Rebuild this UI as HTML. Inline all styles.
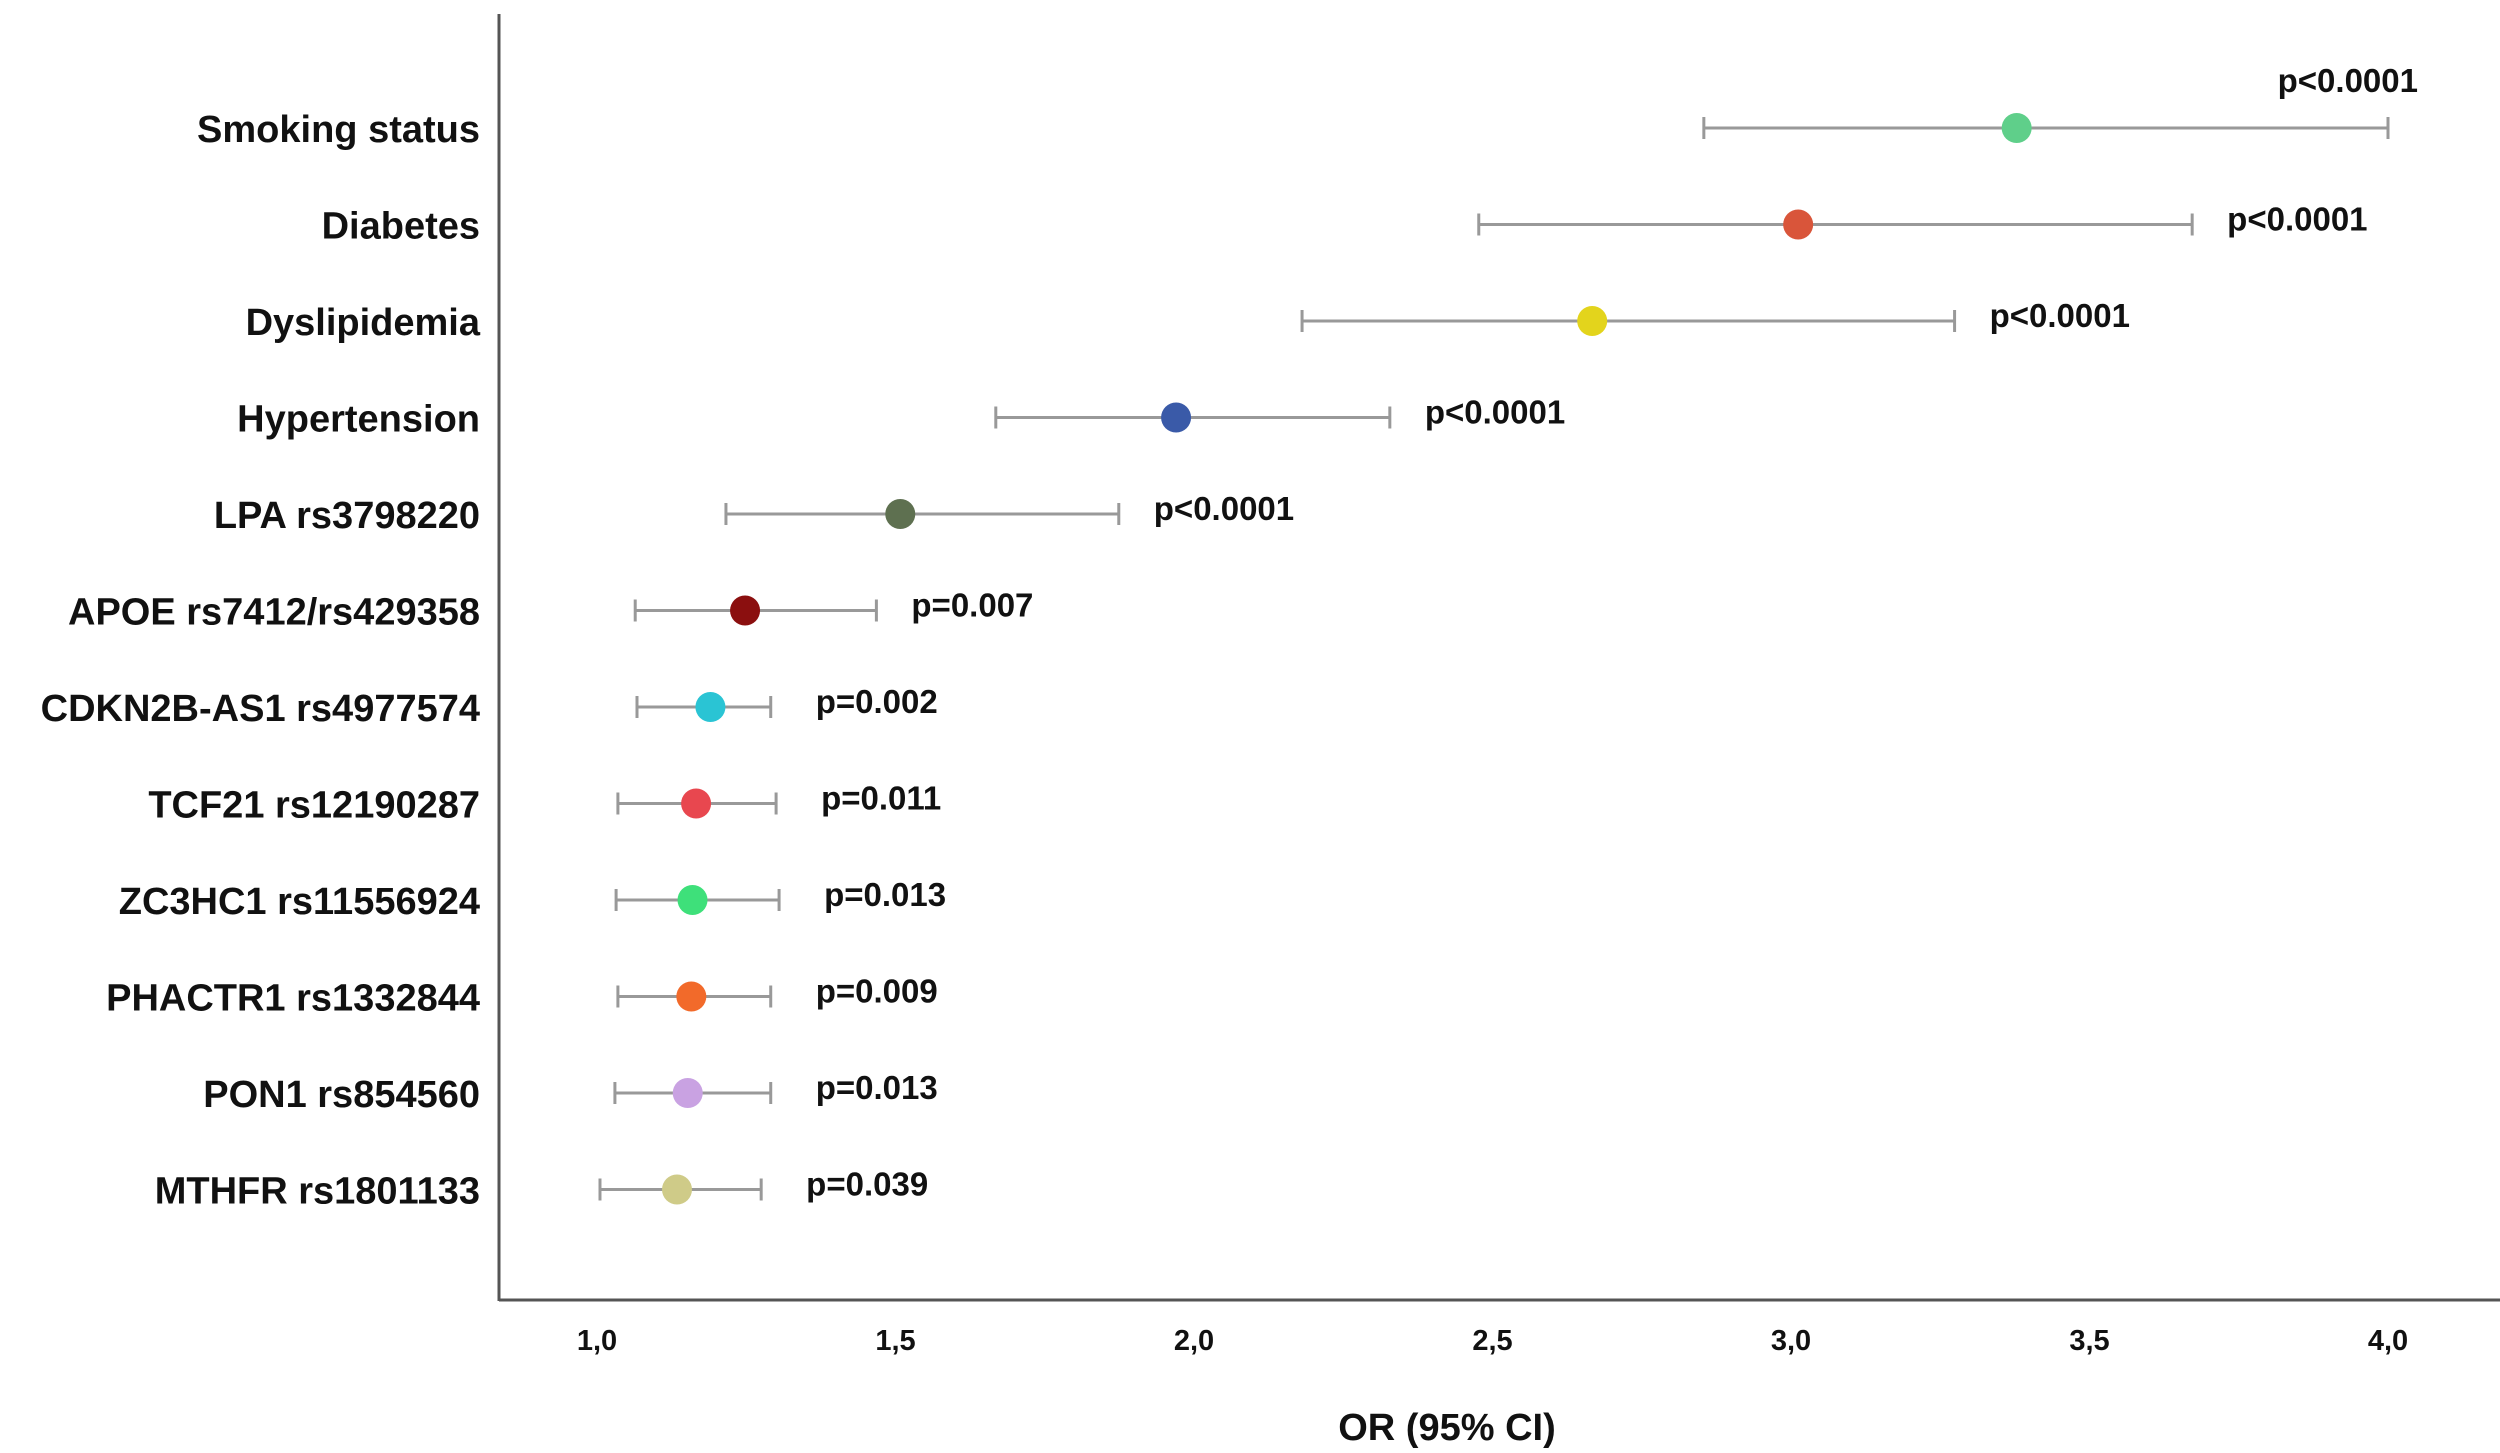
<!DOCTYPE html>
<html><head><meta charset="utf-8"><style>
html,body{margin:0;padding:0;background:#fff;}
svg{display:block;font-family:"Liberation Sans",Arial,sans-serif;font-weight:bold;}
</style></head><body>
<svg id="chart" width="2500" height="1453" viewBox="0 0 2500 1453" xmlns="http://www.w3.org/2000/svg">
<rect width="2500" height="1453" fill="#fff"/>
<g id="g"></g>
</svg>
<script>
const categories=["Smoking status","Diabetes","Dyslipidemia","Hypertension","LPA rs3798220","APOE rs7412/rs429358","CDKN2B-AS1 rs4977574","TCF21 rs12190287","ZC3HC1 rs11556924","PHACTR1 rs1332844","PON1 rs854560","MTHFR rs1801133"];
const orValues=[3.378,3.012,2.667,1.970,1.508,1.248,1.19,1.166,1.16,1.158,1.152,1.134];
const ciLow=[2.854,2.477,2.181,1.668,1.216,1.064,1.067,1.035,1.032,1.035,1.03,1.005];
const ciHigh=[4.0,3.672,3.274,2.328,1.874,1.468,1.291,1.30,1.305,1.291,1.291,1.275];
const pLabels=["p<0.0001","p<0.0001","p<0.0001","p<0.0001","p<0.0001","p=0.007","p=0.002","p=0.011","p=0.013","p=0.009","p=0.013","p=0.039"];
const colors=["#5fcf8a","#d9553a","#e3d41c","#3a5aa8","#5e7050","#8b0f0f","#2ac4d4","#e8474f","#3ee07a","#f26a2a","#c9a2e2","#cfcb88"];
const xTicks=[1.0,1.5,2.0,2.5,3.0,3.5,4.0];
const xTickLabels=["1,0","1,5","2,0","2,5","3,0","3,5","4,0"];

const NS="http://www.w3.org/2000/svg";
const g=document.getElementById('g');
const x0=597,x1=2388,v0=1,v1=4;
function xs(v){return x0+(v-v0)*(x1-x0)/(v1-v0);}
const yTop=128,yStep=96.5;
function ys(i){return yTop+i*yStep;}
function el(t,a,txt){const e=document.createElementNS(NS,t);for(const k in a)e.setAttribute(k,a[k]);if(txt!==undefined)e.textContent=txt;g.appendChild(e);return e;}

let e;
e=el('line',{x1:499,y1:14,x2:499,y2:1301,stroke:'#555','stroke-width':3});


e=el('line',{x1:499,y1:1300,x2:2500,y2:1300,stroke:'#555','stroke-width':3});



xTicks.forEach((t,i)=>{
  const tx=el('text',{x:xs(t),y:1350,'text-anchor':'middle','font-size':29,fill:'#111'},xTickLabels[i]);
  
  
});
e=el('text',{x:1447,y:1440,'text-anchor':'middle','font-size':38,fill:'#111'},'OR (95% CI)');



categories.forEach((c,i)=>{
  const y=ys(i);
  const lab=el('text',{x:480,y:y+14,'text-anchor':'end','font-size':38,fill:'#111'},c);
  
  
  const ln=el('line',{x1:xs(ciLow[i]),y1:y,x2:xs(ciHigh[i]),y2:y,stroke:'#999','stroke-width':3});
  
  
  [ciLow[i],ciHigh[i]].forEach(v=>{
    const cp=el('line',{x1:xs(v),y1:y-11,x2:xs(v),y2:y+11,stroke:'#999','stroke-width':3});
    
    
  });
  const pt=el('circle',{cx:xs(orValues[i]),cy:y,r:15,fill:colors[i]});
  
  
  let px,py;
  if(i===0){px=xs(ciHigh[i])+30;py=y-36;}
  else{px=xs(ciHigh[i])+(ciHigh[i]<1.4?45:35);py=y+6;}
  const pl=el('text',{x:px,y:py,'text-anchor':i===0?'end':'start','font-size':33,fill:'#111'},pLabels[i]);
  
  
});
</script>
</body></html>
